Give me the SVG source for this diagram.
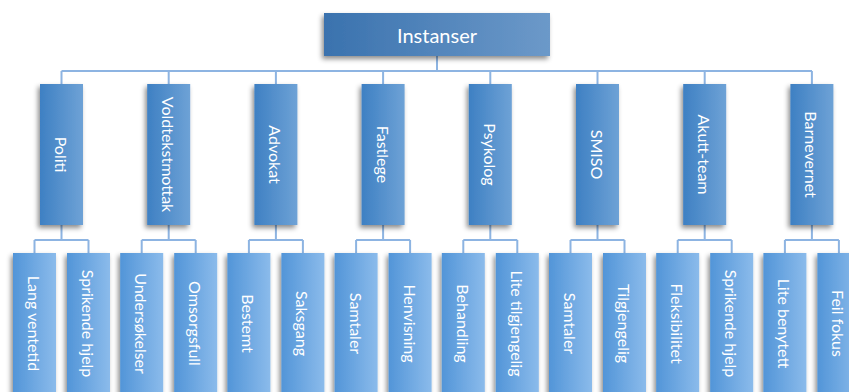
<svg xmlns="http://www.w3.org/2000/svg" width="849" height="392" viewBox="0 0 849 392">
<defs>
<linearGradient id="gTop" x1="0" y1="0" x2="1" y2="0"><stop offset="0" stop-color="#3a72ae"/><stop offset="1" stop-color="#6c99c9"/></linearGradient>
<linearGradient id="g2" x1="0" y1="0" x2="1" y2="0"><stop offset="0" stop-color="#3e80c3"/><stop offset="1" stop-color="#6ea2d6"/></linearGradient>
<linearGradient id="g3" x1="0" y1="0" x2="1" y2="0"><stop offset="0" stop-color="#5295d8"/><stop offset="1" stop-color="#8bbbeb"/></linearGradient>
<filter id="sh" x="-40%" y="-20%" width="170%" height="140%"><feDropShadow dx="-2" dy="3" stdDeviation="2.5" flood-color="#000" flood-opacity="0.45"/></filter>
</defs>
<style>
.l{stroke:#8db4e2;stroke-width:2;fill:none}
.t{fill:#ffffff;font-family:Lato,"Liberation Sans",sans-serif;text-anchor:middle;dominant-baseline:central}
.n2{fill:url(#g2);filter:url(#sh)}
.n3{fill:url(#g3);filter:url(#sh)}
.f16{font-size:16px}
</style>
<rect width="849" height="392" fill="#ffffff"/>
<g id="connectors">
<path class="l" d="M437 56V71M61.5 71H812M61.5 71V84M168.7 71V84M275.9 71V84M383.1 71V84M490.3 71V84M597.5 71V84M704.7 71V84M811.9 71V84"/>
<path class="l" d="M61.5 225V240M34.5 240H88.5M34.5 240V253M88.5 240V253"/>
<path class="l" d="M168.7 225V240M141.7 240H195.7M141.7 240V253M195.7 240V253"/>
<path class="l" d="M275.9 225V240M248.9 240H302.9M248.9 240V253M302.9 240V253"/>
<path class="l" d="M383.1 225V240M356.1 240H410.1M356.1 240V253M410.1 240V253"/>
<path class="l" d="M490.3 225V240M463.3 240H517.3M463.3 240V253M517.3 240V253"/>
<path class="l" d="M597.5 225V240M570.5 240H624.5M570.5 240V253M624.5 240V253"/>
<path class="l" d="M704.7 225V240M677.7 240H731.7M677.7 240V253M731.7 240V253"/>
<path class="l" d="M811.9 225V240M784.9 240H838.9M784.9 240V253M838.9 240V253"/>
</g>
<g id="instanser"><rect x="324" y="13" width="226" height="43" fill="url(#gTop)" filter="url(#sh)"/><text class="t" x="437" y="34.5" font-size="20">Instanser</text></g>

<g id="politi"><rect class="n2" x="40" y="84" width="43" height="141"/><text class="t f16" transform="translate(61.5 154.5) rotate(90)">Politi</text></g>
<g id="voldtekstmottak"><rect class="n2" x="147.2" y="84" width="43" height="141"/><text class="t f16" transform="translate(168.7 154.5) rotate(90)">Voldtekstmottak</text></g>
<g id="advokat"><rect class="n2" x="254.4" y="84" width="43" height="141"/><text class="t f16" transform="translate(275.9 154.5) rotate(90)">Advokat</text></g>
<g id="fastlege"><rect class="n2" x="361.6" y="84" width="43" height="141"/><text class="t f16" transform="translate(383.1 154.5) rotate(90)">Fastlege</text></g>
<g id="psykolog"><rect class="n2" x="468.8" y="84" width="43" height="141"/><text class="t f16" transform="translate(490.3 154.5) rotate(90)">Psykolog</text></g>
<g id="smiso"><rect class="n2" x="576" y="84" width="43" height="141"/><text class="t f16" transform="translate(597.5 154.5) rotate(90)">SMISO</text></g>
<g id="akutt-team"><rect class="n2" x="683.2" y="84" width="43" height="141"/><text class="t f16" transform="translate(704.7 154.5) rotate(90)">Akutt-team</text></g>
<g id="barnevernet"><rect class="n2" x="790.4" y="84" width="43" height="141"/><text class="t f16" transform="translate(811.9 154.5) rotate(90)">Barnevernet</text></g>

<g id="lang-ventetid"><rect class="n3" x="13" y="253" width="43" height="141"/><text class="t f16" transform="translate(34.5 323.5) rotate(90)">Lang ventetid</text></g>
<g id="sprikende-hjelp-1"><rect class="n3" x="67" y="253" width="43" height="141"/><text class="t f16" transform="translate(88.5 323.5) rotate(90)">Sprikende hjelp</text></g>
<g id="undersokelser"><rect class="n3" x="120.2" y="253" width="43" height="141"/><text class="t f16" transform="translate(141.7 323.5) rotate(90)">Undersøkelser</text></g>
<g id="omsorgsfull"><rect class="n3" x="174.2" y="253" width="43" height="141"/><text class="t f16" transform="translate(195.7 323.5) rotate(90)">Omsorgsfull</text></g>
<g id="bestemt"><rect class="n3" x="227.4" y="253" width="43" height="141"/><text class="t f16" transform="translate(248.9 323.5) rotate(90)">Bestemt</text></g>
<g id="saksgang"><rect class="n3" x="281.4" y="253" width="43" height="141"/><text class="t f16" transform="translate(302.9 323.5) rotate(90)">Saksgang</text></g>
<g id="samtaler-1"><rect class="n3" x="334.6" y="253" width="43" height="141"/><text class="t f16" transform="translate(356.1 323.5) rotate(90)">Samtaler</text></g>
<g id="henvisning"><rect class="n3" x="388.6" y="253" width="43" height="141"/><text class="t f16" transform="translate(410.1 323.5) rotate(90)">Henvisning</text></g>
<g id="behandling"><rect class="n3" x="441.8" y="253" width="43" height="141"/><text class="t f16" transform="translate(463.3 323.5) rotate(90)">Behandling</text></g>
<g id="lite-tilgjengelig"><rect class="n3" x="495.8" y="253" width="43" height="141"/><text class="t f16" transform="translate(517.3 323.5) rotate(90)">Lite tilgjengelig</text></g>
<g id="samtaler-2"><rect class="n3" x="549" y="253" width="43" height="141"/><text class="t f16" transform="translate(570.5 323.5) rotate(90)">Samtaler</text></g>
<g id="tilgjengelig"><rect class="n3" x="603" y="253" width="43" height="141"/><text class="t f16" transform="translate(624.5 323.5) rotate(90)">Tilgjengelig</text></g>
<g id="fleksibilitet"><rect class="n3" x="656.2" y="253" width="43" height="141"/><text class="t f16" transform="translate(677.7 323.5) rotate(90)">Fleksibilitet</text></g>
<g id="sprikende-hjelp-2"><rect class="n3" x="710.2" y="253" width="43" height="141"/><text class="t f16" transform="translate(731.7 323.5) rotate(90)">Sprikende hjelp</text></g>
<g id="lite-benytett"><rect class="n3" x="763.4" y="253" width="43" height="141"/><text class="t f16" transform="translate(784.9 323.5) rotate(90)">Lite benytett</text></g>
<g id="feil-fokus"><rect class="n3" x="817.4" y="253" width="43" height="141"/><text class="t f16" transform="translate(838.9 323.5) rotate(90)">Feil fokus</text></g>
</svg>
